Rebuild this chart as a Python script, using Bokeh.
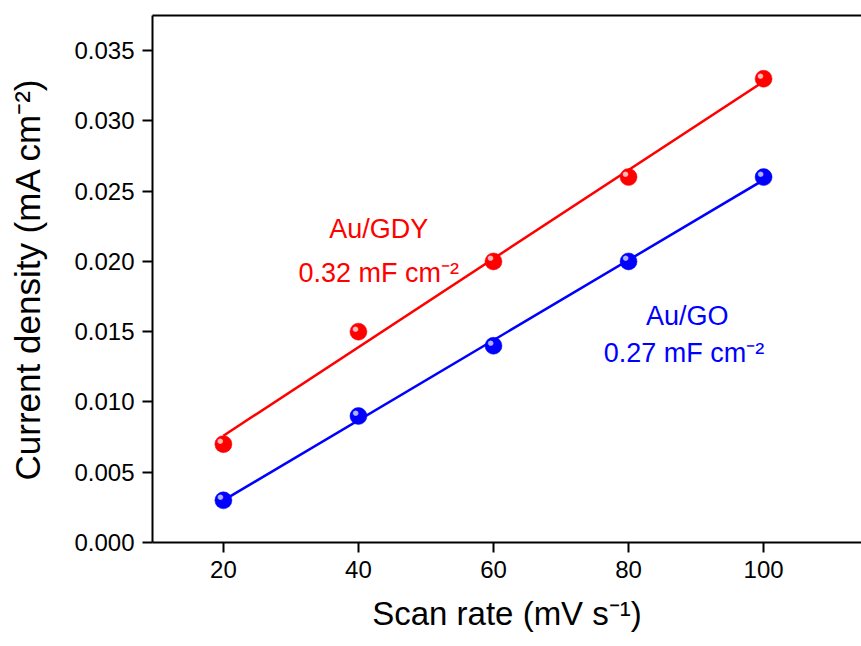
from bokeh.plotting import figure
from bokeh.models import Range1d, LinearAxis, Label, ColumnDataSource, CustomJSTickFormatter
from bokeh.core.properties import value
from bokeh.embed import file_html
from bokeh.resources import INLINE
import numpy as np

scan_rate = [20, 40, 60, 80, 100]
gdy = [0.007, 0.015, 0.020, 0.026, 0.033]
go = [0.003, 0.009, 0.014, 0.020, 0.026]
x_ticks = [20, 40, 60, 80, 100]
y_ticks = [0.000, 0.005, 0.010, 0.015, 0.020, 0.025, 0.030, 0.035]

RED = "#ff0000"
BLUE = "#0000ff"
FONT = "Liberation Sans"

p = figure(width=861, height=646, output_backend="svg", toolbar_location=None,
           x_range=Range1d(9.5, 114.5), y_range=Range1d(0, 0.0375),
           min_border_left=152, min_border_right=0, min_border_top=15, min_border_bottom=104)
p.outline_line_color = None
p.grid.visible = False
p.background_fill_color = "white"
p.border_fill_color = "white"

for ax in (p.xaxis[0], p.yaxis[0]):
    ax.axis_line_width = 2
    ax.major_tick_line_width = 2
    ax.minor_tick_line_width = 2
    ax.major_tick_out = 10
    ax.major_tick_in = 0
    ax.minor_tick_out = 6
    ax.minor_tick_in = 0
    ax.major_label_text_font = FONT
    ax.major_label_text_font_size = "24px"
    ax.major_label_text_color = "black"
    ax.axis_label_text_font = FONT
    ax.axis_label_text_font_style = "normal"
    ax.axis_label_text_color = "black"

p.xaxis[0].ticker = x_ticks
p.xaxis[0].ticker.num_minor_ticks = 2
p.yaxis[0].ticker = y_ticks
p.yaxis[0].ticker.num_minor_ticks = 2
p.xaxis[0].major_label_standoff = 8
p.yaxis[0].major_label_standoff = 8
p.xaxis[0].axis_label = "Scan rate (mV s\u207b\u00b9)"
p.yaxis[0].axis_label = "Current density (mA cm\u207b\u00b2)"
p.xaxis[0].axis_label_text_font_size = "33px"
p.yaxis[0].axis_label_text_font_size = "35px"
p.xaxis[0].axis_label_standoff = 14
p.yaxis[0].axis_label_standoff = 24
p.yaxis[0].formatter = CustomJSTickFormatter(code="return tick.toFixed(3);")

top = LinearAxis(major_tick_line_color=None, minor_tick_line_color=None,
                 major_label_text_font_size="0px", axis_line_width=2,
                 major_tick_out=0, major_label_standoff=0)
top.ticker = []
p.add_layout(top, "above")

xs = np.array(scan_rate, dtype=float)
for ys, col, light in ((gdy, RED, "#ffb8b8"), (go, BLUE, "#b0b0ff")):
    ys = np.array(ys)
    k, b = np.polyfit(xs, ys, 1)
    p.line([xs[0], xs[-1]], [k * xs[0] + b, k * xs[-1] + b], line_color=col, line_width=2.5)
    p.scatter(xs, ys, size=17, fill_color=col, line_color=col, line_width=0.5)
    src = ColumnDataSource(dict(x=xs, y=ys, t=["\u25cf"] * len(xs)))
    p.text("x", "y", text="t", source=src, x_offset=-3, y_offset=-3,
           text_align="center", text_baseline="middle", text_color=light,
           text_font_size="7px", text_font=value("DejaVu Sans"))

labels = [
    ("Au/GDY", 43, 0.0223, RED),
    ("0.32 mF cm\u207b\u00b2", 43, 0.0192, RED),
    ("Au/GO", 88.7, 0.0161, BLUE),
    ("0.27 mF cm\u207b\u00b2", 88.2, 0.0135, BLUE),
]
for txt, x, y, col in labels:
    p.add_layout(Label(x=x, y=y, text=txt, text_color=col, text_font=FONT,
                       text_font_size="27px", text_align="center", text_baseline="middle"))

open("out.html", "w").write(file_html(p, INLINE))
